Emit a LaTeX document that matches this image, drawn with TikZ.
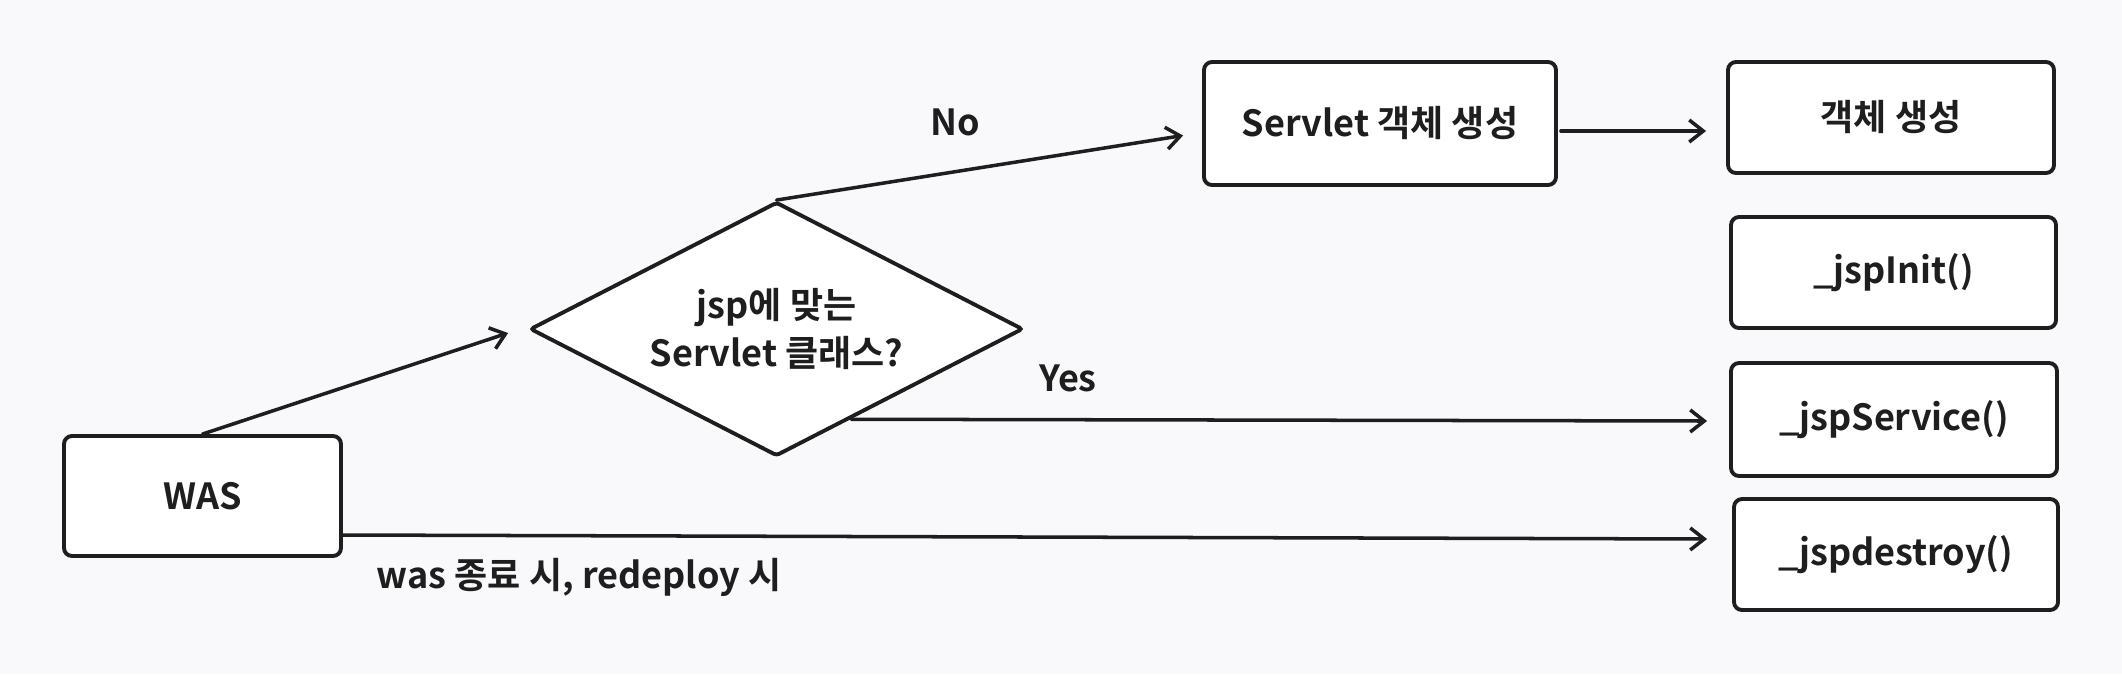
\documentclass[tikz,border=0pt]{standalone}
\usepackage{fontspec}
\setmainfont{Noto Sans CJK KR}[BoldFont={Noto Sans CJK KR Bold}]
\usetikzlibrary{arrows.meta,shapes.geometric,calc}
\definecolor{bg}{RGB}{249,249,251}
\definecolor{ink}{RGB}{30,30,30}
\begin{document}
\begin{tikzpicture}[x=0.02cm,y=-0.02cm,
  sz/.style 2 args={minimum width={#1*0.02cm},minimum height={#2*0.02cm}},
  box/.style={draw=ink,line width=2.2pt,fill=white,rounded corners=0.16cm,inner sep=0pt,text=ink,font=\bfseries\fontsize{20.5}{27}\selectfont},
  conn/.style={draw=ink,line width=2pt,line cap=round,-{Straight Barb[length=0.28cm,width=0.44cm]}},
  lbl/.style={text=ink,font=\bfseries\fontsize{20.5}{24}\selectfont,inner sep=0pt}]
\fill[bg] (0,0) rectangle (2122,674);
\useasboundingbox (0,0) rectangle (2122,674);
% nodes
\node[box,sz={277}{120}] (was) at (202.5,496) {WAS};
\node[box,shape=diamond,aspect=1.94,sz={493}{254},rounded corners=0.06cm,align=center] (dia) at (776.5,329) {jsp에 맞는\\Servlet 클래스?};
\node[box,sz={352}{123}] (serv) at (1380,123.5) {Servlet 객체 생성};
\node[box,sz={326}{111}] (obj) at (1891,117.5) {객체 생성};
\node[box,sz={325}{111}] (init) at (1893.5,272.5) {\_jspInit()};
\node[box,sz={326}{113}] (svc) at (1894,419.5) {\_jspService()};
\node[box,sz={324}{111}] (dest) at (1896,554.5) {\_jspdestroy()};
% labels
\node[lbl] (lno) at (955,122) {No};
\node[lbl] (lyes) at (1068,378) {Yes};
\node[lbl] (lwas) at (579,577) {was 종료 시, redeploy 시};
% connectors
\draw[conn] (was.north) -- ($(dia.west)+(-20,4)$);
\draw[conn] (dia.north) -- ($(serv.west)+(-19,12)$);
\draw[conn] ($(serv.east)+(3,7.5)$) -- ($(obj.west)+(-20,13.5)$);
\draw[conn] ($(dia.east)!0.7!(dia.south)$) -- ($(svc.west)+(-22,1.5)$);
\draw[conn] ($(was.east)+(0,39)$) -- ($(dest.west)+(-25,-15.5)$);
\end{tikzpicture}
\end{document}
